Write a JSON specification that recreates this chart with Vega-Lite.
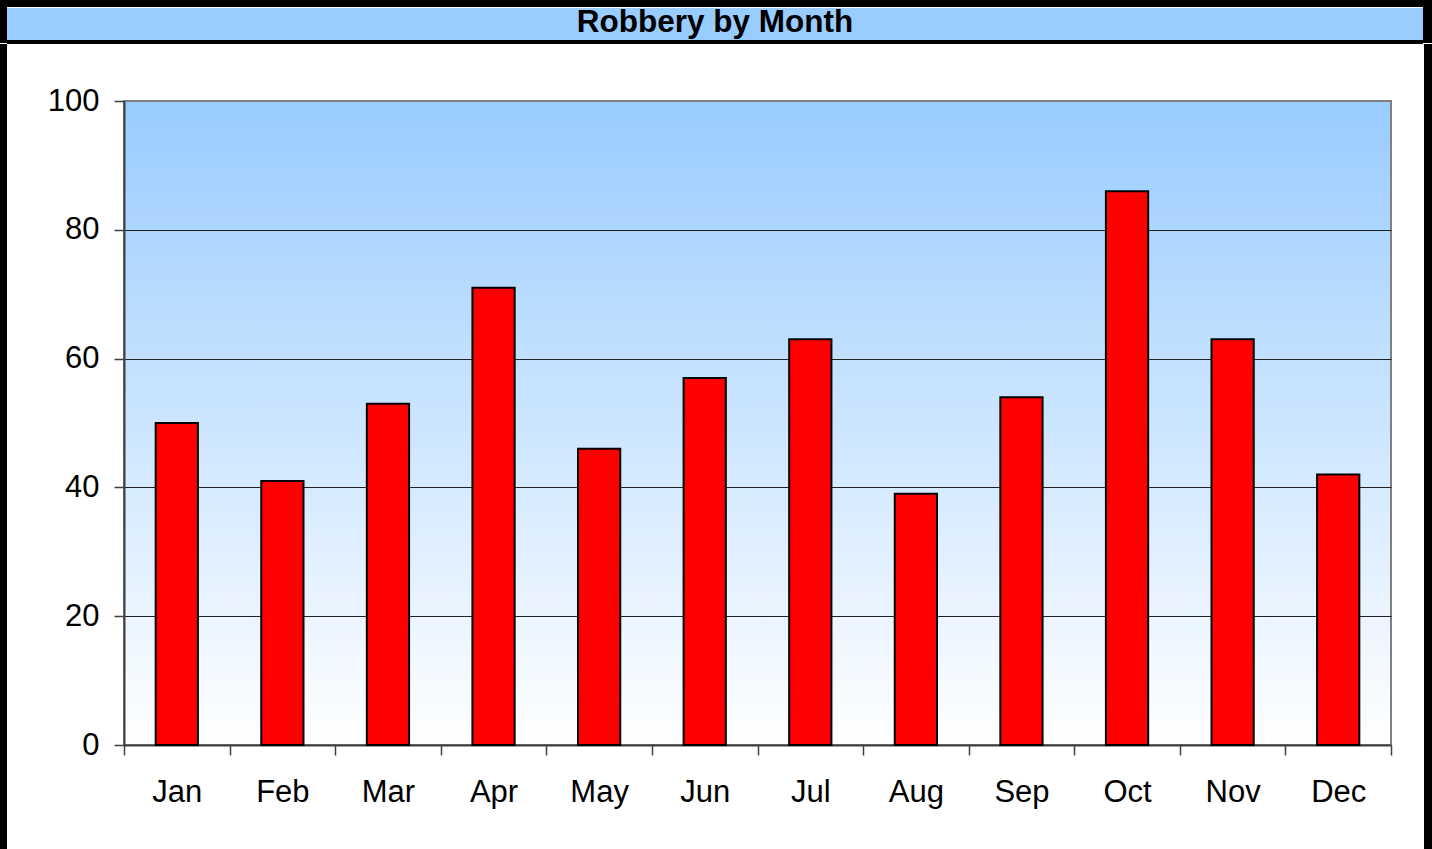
{
  "$schema": "https://vega.github.io/schema/vega-lite/v6.json",
  "padding": 0,
  "background": "white",
  "config": {
    "font": "Liberation Sans",
    "view": {"stroke": null},
    "axis": {"title": null}
  },
  "spacing": 0,
  "vconcat": [
    {
      "spacing": 0,
      "hconcat": [
        {
          "width": 7, "height": 43,
          "view": {"fill": "#000000", "stroke": null},
          "data": {"values": [{}]},
          "mark": {"type": "text", "text": "", "fontSize": 1}
        },
        {
          "spacing": 0,
          "vconcat": [
            {
              "width": 1416, "height": 7,
              "view": {"fill": "#000000", "stroke": null},
              "data": {"values": [{}]},
              "mark": {"type": "text", "text": "", "fontSize": 1}
            },
            {
              "width": 1416, "height": 32,
              "view": {"fill": "#99CCFF", "stroke": null},
              "data": {"values": [{"t": "Robbery by Month"}]},
              "mark": {"type": "text", "font": "Liberation Sans", "fontWeight": "bold", "fontSize": 31.5, "baseline": "middle", "align": "center", "color": "#000000", "dy": -1},
              "encoding": {"text": {"field": "t"}}
            },
            {
              "width": 1416, "height": 4,
              "view": {"fill": "#000000", "stroke": null},
              "data": {"values": [{}]},
              "mark": {"type": "text", "text": "", "fontSize": 1}
            }
          ]
        },
        {
          "width": 9, "height": 43,
          "view": {"fill": "#000000", "stroke": null},
          "data": {"values": [{}]},
          "mark": {"type": "text", "text": "", "fontSize": 1}
        }
      ]
    },
    {
      "spacing": 0,
      "hconcat": [
        {
          "width": 7, "height": 806,
          "view": {"fill": "#000000", "stroke": null},
          "data": {"values": [{}]},
          "mark": {"type": "text", "text": "", "fontSize": 1}
        },
        {
          "spacing": 0,
          "vconcat": [
            {
              "width": 1300, "height": 40,
              "view": {"fill": null, "stroke": null},
              "data": {"values": [{}]},
              "mark": {"type": "text", "text": "", "fontSize": 1}
            },
            {
              "width": 1267, "height": 644,
              "view": {
                "fill": {"gradient": "linear", "x1": 0, "y1": 0, "x2": 0, "y2": 1, "stops": [{"offset": 0, "color": "#99CCFF"}, {"offset": 1, "color": "#FFFFFF"}]},
                "stroke": "#808080", "strokeWidth": 2
              },
              "data": {"values": [
                {"month": "Jan", "robberies": 50},
                {"month": "Feb", "robberies": 41},
                {"month": "Mar", "robberies": 53},
                {"month": "Apr", "robberies": 71},
                {"month": "May", "robberies": 46},
                {"month": "Jun", "robberies": 57},
                {"month": "Jul", "robberies": 63},
                {"month": "Aug", "robberies": 39},
                {"month": "Sep", "robberies": 54},
                {"month": "Oct", "robberies": 86},
                {"month": "Nov", "robberies": 63},
                {"month": "Dec", "robberies": 42}
              ]},
              "mark": {"type": "bar", "fill": "#FF0000", "stroke": "#000000", "strokeWidth": 2, "width": {"band": 0.4}},
              "encoding": {
                "x": {
                  "field": "month", "type": "ordinal", "sort": null,
                  "scale": {"paddingInner": 0, "paddingOuter": 0},
                  "axis": {"title": null, "labelAngle": 0, "labelFontSize": 31, "labelColor": "#000000", "labelPadding": 22, "tickBand": "extent", "tickSize": 10, "tickColor": "#404040", "tickWidth": 1.5, "domainColor": "#404040", "domainWidth": 2}
                },
                "y": {
                  "field": "robberies", "type": "quantitative",
                  "scale": {"domain": [0, 100], "nice": false},
                  "axis": {
                    "title": null, "values": [0, 20, 40, 60, 80, 100], "grid": true,
                    "gridColor": {"condition": {"test": "datum.value === 0 || datum.value === 100", "value": "transparent"}, "value": "#222222"},
                    "gridWidth": 1, "labelFontSize": 31, "labelColor": "#000000", "labelPadding": 15,
                    "tickSize": 10, "tickColor": "#404040", "tickWidth": 1.5, "domainColor": "#404040", "domainWidth": 2,
                    "minExtent": 116, "maxExtent": 116
                  }
                }
              }
            }
          ]
        },
        {
          "width": 9, "height": 806,
          "view": {"fill": "#000000", "stroke": null},
          "data": {"values": [{}]},
          "mark": {"type": "text", "text": "", "fontSize": 1}
        }
      ]
    }
  ]
}
